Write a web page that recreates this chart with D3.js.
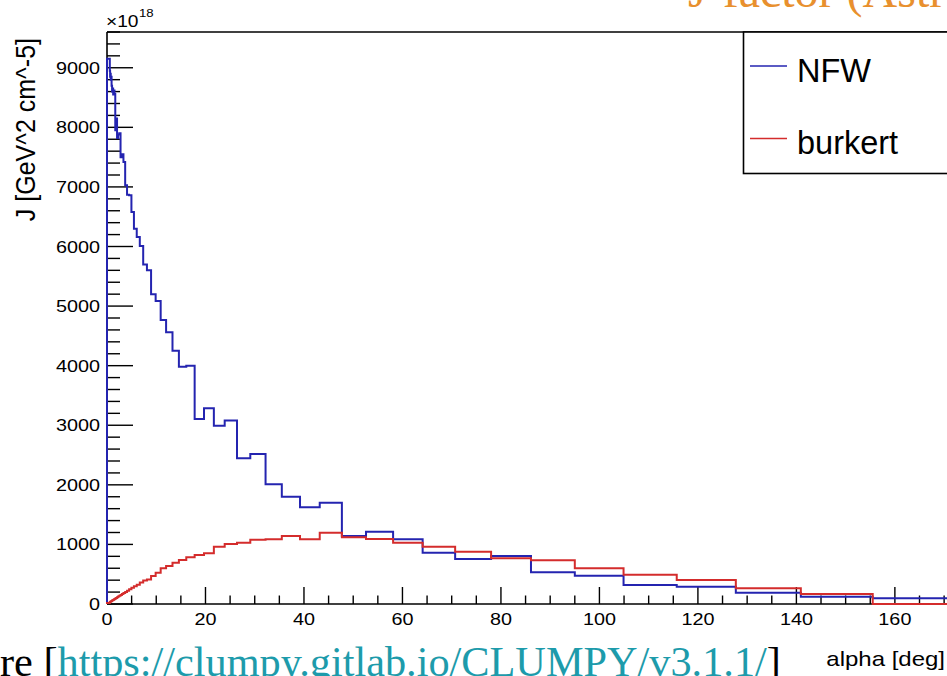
<!DOCTYPE html>
<html><head><meta charset="utf-8">
<script src="https://cdn.jsdelivr.net/npm/d3@7"></script>
<style>html,body{margin:0;padding:0;background:#fff;overflow:hidden}</style>
</head><body>
<svg id="c" width="947" height="676"></svg>
<script>
// ---- data ----
const binEdges = [0, 0.57, 0.63, 0.69, 0.76, 0.84, 0.93, 1.03, 1.13, 1.25, 1.38, 1.52, 1.68, 1.85, 2.04, 2.25, 2.49, 2.75, 3.03, 3.34, 3.69, 4.07, 4.49, 4.96, 5.47, 6.04, 6.66, 7.35, 8.11, 8.95, 9.88, 10.9, 12.0, 13.3, 14.6, 16.1, 17.8, 19.7, 21.7, 23.9, 26.4, 29.1, 32.2, 35.5, 39.2, 43.2, 47.7, 52.6, 58.1, 64.1, 70.7, 78.0, 86.1, 95.0, 104.9, 115.7, 127.7, 140.9, 155.5, 171.6];
const nfwValues = [9150, 8950, 8850, 8900, 8800, 8850, 8700, 8600, 8650, 8550, 8620, 8560, 7950, 8150, 7820, 7880, 7900, 7500, 7550, 7420, 7030, 6870, 6860, 6580, 6300, 6160, 6010, 5700, 5600, 5200, 5085, 4765, 4560, 4250, 3980, 4000, 3105, 3285, 2990, 3080, 2445, 2517, 2008, 1800, 1622, 1700, 1141, 1213, 1085, 861, 755, 805, 532, 475, 319, 291, 190, 123, 95];
const burkertValues = [15, 32, 35, 38, 42, 46, 51, 57, 63, 69, 76, 84, 93, 102, 113, 125, 138, 152, 167, 184, 203, 224, 247, 272, 300, 325, 360, 395, 410, 470, 525, 600, 638, 694, 738, 783, 822, 850, 962, 1007, 1029, 1080, 1088, 1141, 1085, 1195, 1119, 1090, 1029, 962, 878, 767, 733, 599, 492, 403, 263, 168, 0];
const seriesNames = ["NFW", "burkert"];
const xTickLabels = [0, 20, 40, 60, 80, 100, 120, 140, 160];
const yTickLabels = [0, 1000, 2000, 3000, 4000, 5000, 6000, 7000, 8000, 9000];
const xTitle = "alpha [deg]";
const yTitle = "J [GeV^2 cm^-5]";
const topTitle = "J-factor (Astro";
const sourcePrefix = "re [";
const sourceLink = "https://clumpy.gitlab.io/CLUMPY/v3.1.1/";
const sourceSuffix = "]";

// ---- layout ----
const svg = d3.select("#c");
const sans = "'Liberation Sans', Arial, Helvetica, sans-serif";
const serif = "'Liberation Serif', 'Times New Roman', serif";
const SX = 1.2; // horizontal stretch of the axis texts
const blue = "#2424b0", red = "#d42c2c";

const x = d3.scaleLinear().domain([0, 171.6]).range([107, 952]);
const y = d3.scaleLinear().domain([0, 9600]).range([604, 32]);

function stretchedText(g, tx, ty, str, size, anchor, sx) {
  return g.append("text")
    .attr("transform", `translate(${tx},${ty}) scale(${sx || SX},1)`)
    .attr("text-anchor", anchor)
    .attr("font-family", sans)
    .attr("font-size", size)
    .attr("fill", "#000")
    .text(str);
}

// top title (cut off by the picture's top edge)
svg.append("text").attr("x", 688).attr("y", 7)
  .attr("font-family", serif).attr("font-size", 48).attr("fill", "#e8902e")
  .text(topTitle);

const axes = svg.append("g");
// frame lines
axes.append("line").attr("x1", x(0)).attr("x2", 947).attr("y1", y(0)).attr("y2", y(0))
  .attr("stroke", "#000").attr("stroke-width", 1.6);
axes.append("line").attr("x1", x(0)).attr("x2", 947).attr("y1", y(9600)).attr("y2", y(9600))
  .attr("stroke", "#000").attr("stroke-width", 1.6);
axes.append("line").attr("x1", x(0)).attr("x2", x(0)).attr("y1", y(0)).attr("y2", y(9600))
  .attr("stroke", "#000").attr("stroke-width", 1.6);

// y ticks
const yMinor = d3.range(0, 9601, 200);
axes.selectAll(".ym").data(yMinor).join("line")
  .attr("x1", x(0)).attr("x2", d => x(0) + (d % 1000 === 0 ? 26 : 13))
  .attr("y1", d => y(d)).attr("y2", d => y(d))
  .attr("stroke", "#000").attr("stroke-width", 1.4);
yTickLabels.forEach(v => {
  stretchedText(axes, 100, y(v) + 6, String(v), 16.5, "end");
});
// exponent
stretchedText(axes, 106, 27, "\u00d710", 16, "start");
stretchedText(axes, 139, 17, "18", 11, "start");

// x ticks
const xMinor = d3.range(0, 171, 5);
axes.selectAll(".xm").data(xMinor).join("line")
  .attr("x1", d => x(d)).attr("x2", d => x(d))
  .attr("y1", y(0)).attr("y2", d => y(0) - (d % 20 === 0 ? 17 : 8.5))
  .attr("stroke", "#000").attr("stroke-width", 1.4);
xTickLabels.forEach(v => {
  stretchedText(axes, x(v), 625, String(v), 16.5, "middle");
});

// axis titles
stretchedText(axes, 945, 666, xTitle, 20, "end");
svg.append("text")
  .attr("transform", `translate(35,38) scale(1.1,1) rotate(-90)`)
  .attr("text-anchor", "end").attr("font-family", sans).attr("font-size", 25)
  .text(yTitle);

// histograms
function steps(vals) {
  const pts = [[binEdges[0], 0]];
  vals.forEach((v, i) => { pts.push([binEdges[i], v]); pts.push([binEdges[i + 1], v]); });
  pts.push([binEdges[binEdges.length - 1], 0]);
  return pts;
}
const line = d3.line().x(d => x(d[0])).y(d => y(d[1]));
svg.append("path").attr("d", line(steps(nfwValues)))
  .attr("fill", "none").attr("stroke", blue).attr("stroke-width", 2);
svg.append("path").attr("d", line(steps(burkertValues)))
  .attr("fill", "none").attr("stroke", red).attr("stroke-width", 2);

// legend
const lg = svg.append("g");
lg.append("rect").attr("x", 743.5).attr("y", 32).attr("width", 260).attr("height", 141.5)
  .attr("fill", "#fff").attr("stroke", "#000").attr("stroke-width", 1.6);
[[seriesNames[0], blue, 66], [seriesNames[1], red, 138.5]].forEach(([name, col, ly]) => {
  lg.append("line").attr("x1", 750).attr("x2", 787).attr("y1", ly).attr("y2", ly)
    .attr("stroke", col).attr("stroke-width", 1.3);
  lg.append("text").attr("x", 797).attr("y", ly + 15.5)
    .attr("font-family", sans).attr("font-size", 32.5).attr("fill", "#000").text(name);
});

// source line (cut off by the picture's bottom edge)
const src = svg.append("text").attr("x", 0).attr("y", 676)
  .attr("font-family", serif).attr("font-size", 42.3);
src.append("tspan").attr("fill", "#000").text(sourcePrefix);
src.append("tspan").attr("fill", "#1d9bab").text(sourceLink);
src.append("tspan").attr("fill", "#000").text(sourceSuffix);
</script>
</body></html>
